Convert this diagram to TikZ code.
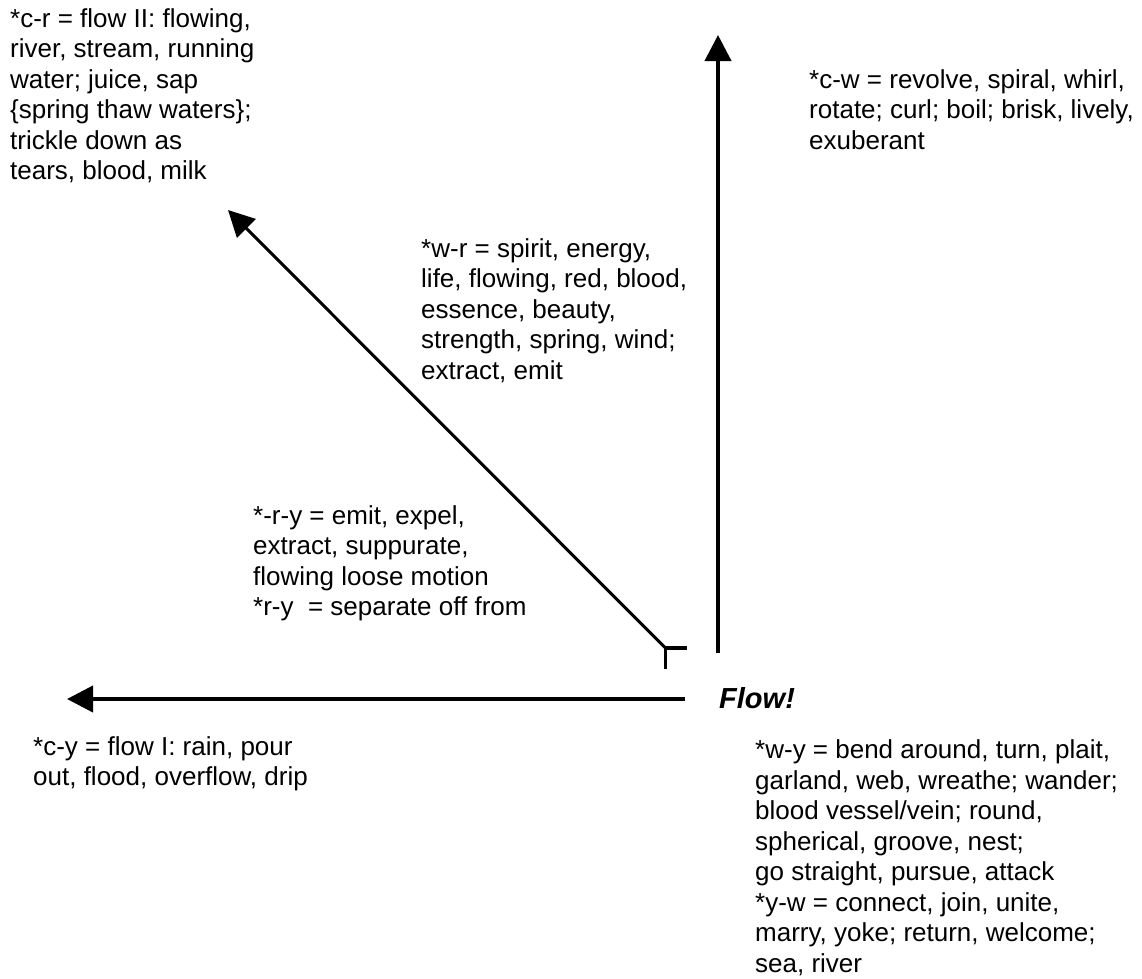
\documentclass[tikz,border=0pt]{standalone}
\usepackage{fontspec}
\setmainfont{Liberation Sans}
\usetikzlibrary{arrows.meta}
\begin{document}
\begin{tikzpicture}[x=1pt,y=-1pt,
  gloss/.style={anchor=base west,inner sep=0pt,align=left,
    font=\fontsize{26}{30.5}\selectfont},
  thick arrow/.style={line width=4pt,-{Triangle[length=26pt,width=26pt]}},
  thin arrow/.style={line width=3pt,-{Triangle[length=26pt,width=26pt]}}]
\useasboundingbox (0,0) rectangle (1142,978);

% centre label
\node[anchor=base west,inner sep=0pt,font=\fontsize{29}{34}\selectfont\bfseries\itshape] (flow) at (719,708) {Flow!};

% arrow end points
\coordinate (hstart) at (685,699);
\coordinate (hend)   at (67,699);
\coordinate (vstart) at (718,653);
\coordinate (vend)   at (718,35);
\coordinate (corner) at (665.5,648);
\coordinate (dend)   at (228,210);
\coordinate (cdown)  at (665.5,669);
\coordinate (cright) at (687,648);

% the three arrows
\draw[thick arrow] (hstart) -- (hend);
\draw[thick arrow] (vstart) -- (vend);
\draw[thin arrow] (corner) -- (dend);
\draw[line width=3.5pt,line join=miter] (cdown) -- (corner) -- (cright);

% glosses (positioned at the baseline of their last line)
\node[gloss] (cr) at (10,179.5) {*c-r = flow II: flowing,\\river, stream, running\\water; juice, sap\\\{spring thaw waters\};\\trickle down as\\tears, blood, milk};
\node[gloss] (cw) at (809,149) {*c-w = revolve, spiral, whirl,\\rotate; curl; boil; brisk, lively,\\exuberant};
\node[gloss] (wr) at (421,379) {*w-r = spirit, energy,\\life, flowing, red, blood,\\essence, beauty,\\strength, spring, wind;\\extract, emit};
\node[gloss] (ry) at (253,615.5) {*-r-y = emit, expel,\\extract, suppurate,\\flowing loose motion\\*r-y\ \ = separate off from};
\node[gloss] (cy) at (33,785.5) {*c-y = flow I: rain, pour\\out, flood, overflow, drip};
\node[gloss] (wy) at (755,972) {*w-y = bend around, turn, plait,\\garland, web, wreathe; wander;\\blood vessel/vein; round,\\spherical, groove, nest;\\go straight, pursue, attack\\*y-w = connect, join, unite,\\marry, yoke; return, welcome;\\sea, river};
\end{tikzpicture}
\end{document}
